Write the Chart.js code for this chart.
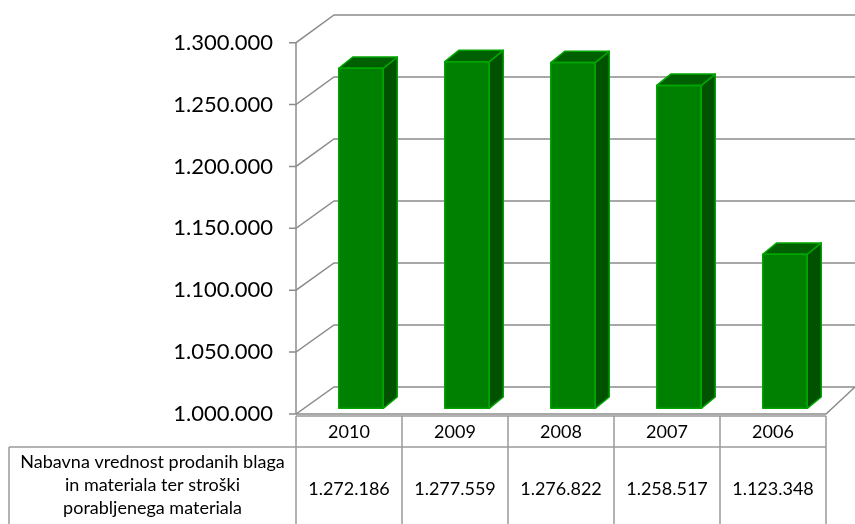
<!DOCTYPE html>
<html>
<head>
<meta charset="utf-8">
<script src="https://cdn.jsdelivr.net/npm/chart.js@4"></script>
<style>
  html, body { margin: 0; padding: 0; background: #fff; }
  #wrap { width: 855px; height: 524px; }
</style>
</head>
<body>
<div id="wrap"><canvas id="chart" width="855" height="524"></canvas></div>
<script>
// categories and values
const years = ['2010', '2009', '2008', '2007', '2006'];
const values = [1272186, 1277559, 1276822, 1258517, 1123348];
const valueLabels = ['1.272.186', '1.277.559', '1.276.822', '1.258.517', '1.123.348'];
const rowLabel = ['Nabavna vrednost prodanih blaga', 'in materiala ter stroški', 'porabljenega materiala'];
const yTicks = [1000000, 1050000, 1100000, 1150000, 1200000, 1250000, 1300000];
const yTickLabels = ['1.000.000', '1.050.000', '1.100.000', '1.150.000', '1.200.000', '1.250.000', '1.300.000'];

const FONT = 'Lato, "Open Sans", sans-serif';
const GRID = '#8c8c8c';
const TABLE_LINE = '#9a9a9a';

// 3D frame geometry (front plane, back wall, bar depth)
const geo = {
  barShift: 12,          // bars sit a little behind the front plane
  floorFront: 414, frontH: 371.3,
  floorBack: 387, backH: 372,
  backLeft: 334,
  rightDx: 29,
  barDx: 14, barDy: 11.3
};

function frac(v, y) { return (v - y.min) / (y.max - y.min); }

// walls, floor, gridlines and axis labels behind the bars
const frame3d = {
  id: 'frame3d',
  beforeDatasetsDraw(chart) {
    const { ctx, chartArea, scales: { y } } = chart;
    const axisX = chartArea.left - geo.barShift;
    const frontRight = chartArea.right - geo.barShift;
    const W = chart.width;
    ctx.save();
    ctx.strokeStyle = GRID;
    ctx.lineWidth = 1.5;
    yTicks.forEach((v, i) => {
      const f = frac(v, y);
      const fy = geo.floorFront - f * geo.frontH;
      const by = geo.floorBack - f * geo.backH;
      ctx.beginPath();
      ctx.moveTo(axisX - 7, fy);
      ctx.lineTo(axisX, fy);
      ctx.lineTo(geo.backLeft, by);
      ctx.lineTo(W, by);
      ctx.stroke();
      ctx.fillStyle = '#000';
      ctx.font = '22px ' + FONT;
      ctx.textAlign = 'right';
      ctx.textBaseline = 'middle';
      ctx.fillText(yTickLabels[i], 273, fy);
    });
    // front axis line
    ctx.beginPath();
    ctx.moveTo(axisX, geo.floorFront - geo.frontH);
    ctx.lineTo(axisX, geo.floorFront);
    ctx.stroke();
    // floor front and right edge
    ctx.beginPath();
    ctx.moveTo(axisX, geo.floorFront);
    ctx.lineTo(frontRight, geo.floorFront);
    ctx.lineTo(frontRight + geo.rightDx, geo.floorBack);
    ctx.stroke();
    ctx.restore();
  },
  // top and side faces of each bar
  afterDatasetsDraw(chart) {
    const { ctx, scales: { y: yScale } } = chart;
    const meta = chart.getDatasetMeta(0);
    const floor = yScale.getPixelForValue(yScale.min);
    ctx.save();
    ctx.lineWidth = 1.5;
    ctx.strokeStyle = '#00a600';
    ctx.lineJoin = 'round';
    meta.data.forEach(bar => {
      const { x, y, width } = bar.getProps(['x', 'y', 'width'], true);
      const base = Math.min(bar.base, floor);
      const l = x - width / 2, r = x + width / 2;
      const dx = geo.barDx, dy = geo.barDy;
      // side
      ctx.fillStyle = '#005200';
      ctx.beginPath();
      ctx.moveTo(r, y);
      ctx.lineTo(r + dx, y - dy);
      ctx.lineTo(r + dx, base - dy);
      ctx.lineTo(r, base);
      ctx.closePath();
      ctx.fill();
      ctx.stroke();
      // top
      ctx.fillStyle = '#005f00';
      ctx.beginPath();
      ctx.moveTo(l, y);
      ctx.lineTo(l + dx, y - dy);
      ctx.lineTo(r + dx, y - dy);
      ctx.lineTo(r, y);
      ctx.closePath();
      ctx.fill();
      ctx.stroke();
      // front outline
      ctx.strokeRect(l, y, width, base - y);
    });
    ctx.restore();
  },
  // data table under the plot
  afterDraw(chart) {
    const { ctx, chartArea, scales: { x } } = chart;
    const n = years.length;
    const colW = (chartArea.right - chartArea.left) / n;
    const left = chartArea.left - geo.barShift;
    const right = left + colW * n;
    const top = 416, mid = 447, bottom = 530, labelLeft = 9;
    ctx.save();
    ctx.strokeStyle = TABLE_LINE;
    ctx.lineWidth = 1.5;
    ctx.beginPath();
    ctx.moveTo(left, top); ctx.lineTo(right, top);
    ctx.moveTo(labelLeft, mid); ctx.lineTo(right, mid);
    ctx.moveTo(labelLeft, mid); ctx.lineTo(labelLeft, bottom);
    for (let i = 0; i <= n; i++) {
      const cx = left + i * colW;
      ctx.moveTo(cx, top); ctx.lineTo(cx, bottom);
    }
    ctx.stroke();
    ctx.fillStyle = '#000';
    ctx.font = '18px ' + FONT;
    ctx.textAlign = 'center';
    ctx.textBaseline = 'middle';
    years.forEach((yr, i) => {
      const cx = x.getPixelForValue(i) - geo.barShift;
      ctx.fillText(yr, cx, (top + mid) / 2 + 1);
      ctx.fillText(valueLabels[i], cx, 489);
    });
    const lx = (labelLeft + left) / 2;
    rowLabel.forEach((t, i) => ctx.fillText(t, lx, 462 + i * 23.3));
    ctx.restore();
  }
};

new Chart(document.getElementById('chart'), {
  type: 'bar',
  data: {
    labels: years,
    datasets: [{
      data: values,
      base: 1000000,
      backgroundColor: '#008000',
      borderWidth: 0,
      categoryPercentage: 1,
      barPercentage: 0.42
    }]
  },
  options: {
    responsive: false,
    animation: false,
    devicePixelRatio: 1,
    layout: { padding: { left: 308, right: 17, top: 33.6, bottom: 115.7 } },
    plugins: { legend: { display: false }, tooltip: { enabled: false } },
    scales: {
      x: { display: false },
      y: { display: false, min: 1000000, max: 1300000 }
    }
  },
  plugins: [frame3d]
});
</script>
</body>
</html>
